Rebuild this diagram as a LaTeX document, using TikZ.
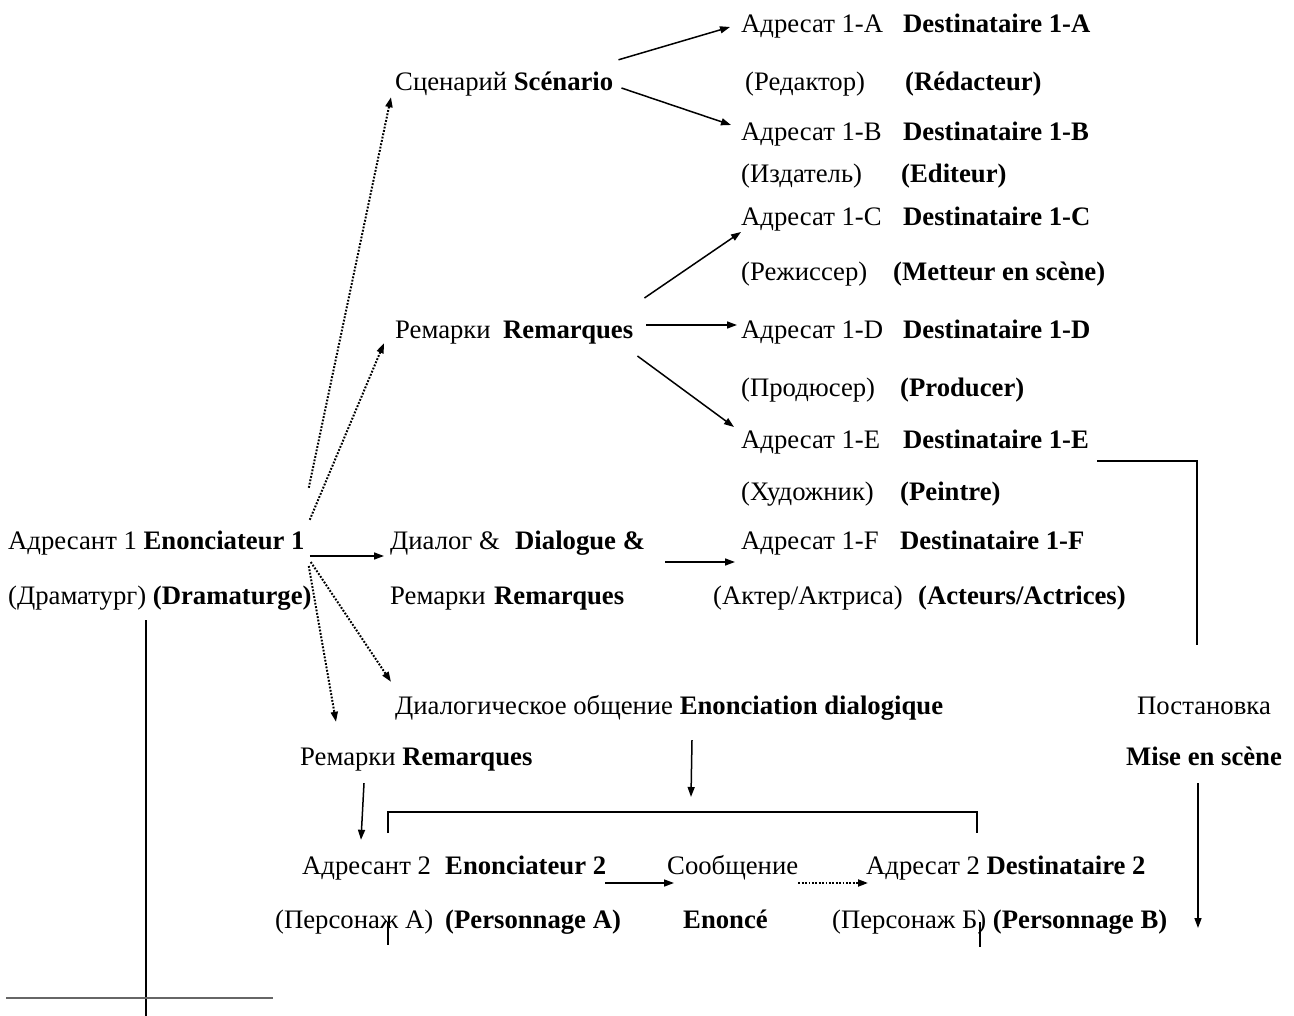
\documentclass[tikz,border=0pt]{standalone}
\usepackage{fontspec}
\setmainfont{Liberation Serif}
\usetikzlibrary{arrows.meta}
\tikzset{
	textstyle/.style={inner sep=0pt,anchor=base west,text height=18pt,text depth=6pt},
	boldstyle/.style={textstyle,font=\bfseries},
	arrowstyle/.style={-{Stealth[length=10pt,width=7pt,inset=0pt]},line width=1.5pt},
	dotstyle/.style={arrowstyle,line width=2pt,dash pattern=on 1.8pt off 1.6pt},
	linestyle/.style={line width=1.5pt}
}
\begin{document}
\begin{tikzpicture}[x=1pt,y=-1pt]
	\fontsize{26.7pt}{31pt}\selectfont
	\useasboundingbox (0,0) rectangle (1294,1016);
	\node[textstyle] (a1a) at (741,33) {Адресат 1-A};
	\node[boldstyle] (a1afr) at (903,33) {Destinataire 1-A};
	\node[textstyle] (red) at (745,91) {(Редактор)};
	\node[boldstyle] (redfr) at (905,91) {(Rédacteur)};
	\node[textstyle] (scen) at (395,91) {Сценарий \textbf{Scénario}};
	\node[textstyle] (a1b) at (741,141) {Адресат 1-B};
	\node[boldstyle] (a1bfr) at (903,141) {Destinataire 1-B};
	\node[textstyle] (izd) at (741,183) {(Издатель)};
	\node[boldstyle] (izdfr) at (901,183) {(Editeur)};
	\node[textstyle] (a1c) at (741,226) {Адресат 1-C};
	\node[boldstyle] (a1cfr) at (903,226) {Destinataire 1-C};
	\node[textstyle] (rezh) at (741,281) {(Режиссер)};
	\node[boldstyle] (rezhfr) at (893,281) {(Metteur en scène)};
	\node[textstyle] (rem) at (395,339) {Ремарки};
	\node[boldstyle] (remfr) at (503,339) {Remarques};
	\node[textstyle] (a1d) at (741,339) {Адресат 1-D};
	\node[boldstyle] (a1dfr) at (903,339) {Destinataire 1-D};
	\node[textstyle] (prod) at (741,396) {(Продюсер)};
	\node[boldstyle] (prodfr) at (900,396) {(Producer)};
	\node[textstyle] (a1e) at (741,448) {Адресат 1-E};
	\node[boldstyle] (a1efr) at (903,448) {Destinataire 1-E};
	\node[textstyle] (khud) at (741,500) {(Художник)};
	\node[boldstyle] (khudfr) at (900,500) {(Peintre)};
	\node[textstyle] (enc1) at (8,549) {Адресант 1 \textbf{Enonciateur 1}};
	\node[textstyle] (dial) at (390,549) {Диалог \&};
	\node[boldstyle] (dialfr) at (515,549) {Dialogue \&};
	\node[textstyle] (a1f) at (741,549) {Адресат 1-F};
	\node[boldstyle] (a1ffr) at (900,549) {Destinataire 1-F};
	\node[textstyle] (dram) at (8,604) {(Драматург) \textbf{(Dramaturge)}};
	\node[textstyle] (rem2) at (390,604) {Ремарки};
	\node[boldstyle] (rem2fr) at (494,604) {Remarques};
	\node[textstyle] (akt) at (713,604) {(Актер/Актриса)};
	\node[boldstyle] (aktfr) at (918,604) {(Acteurs/Actrices)};
	\node[textstyle] (dialog) at (395,714) {Диалогическое общение \textbf{Enonciation dialogique}};
	\node[textstyle] (post) at (1137,714) {Постановка};
	\node[textstyle] (rem3) at (300,765) {Ремарки \textbf{Remarques}};
	\node[boldstyle] (mise) at (1126,765) {Mise en scène};
	\node[textstyle] (enc2) at (302,874) {Адресант 2};
	\node[boldstyle] (enc2fr) at (445,874) {Enonciateur 2};
	\node[textstyle] (soob) at (667,874) {Сообщение};
	\node[textstyle] (dest2) at (866,874) {Адресат 2 \textbf{Destinataire 2}};
	\node[textstyle] (persa) at (275,928) {(Персонаж А)};
	\node[boldstyle] (persafr) at (445,928) {(Personnage A)};
	\node[boldstyle] (enon) at (683,928) {Enoncé};
	\node[textstyle] (persb) at (832,928) {(Персонаж Б) \textbf{(Personnage B)}};
	\coordinate (brl) at (388,833);
	\coordinate (brr) at (977,833);
	\coordinate (brmid) at (691,797);
	\coordinate (postup) at (1197,645);
	\coordinate (misedown) at (1198,928);
	\coordinate (dramdown) at (146,1016);
	\draw[arrowstyle] ([xshift=5pt,yshift=13pt]scen.north east)--([xshift=-11pt]a1a.west);
	\draw[arrowstyle] ([xshift=8pt,yshift=-3pt]scen.east)--([xshift=-10pt,yshift=10pt]a1b.west);
	\draw[arrowstyle] ([xshift=11pt,yshift=35pt]remfr.east)--([yshift=-12pt]a1c.west);
	\draw[arrowstyle] ([xshift=13pt,yshift=8pt]remfr.east)--([xshift=-4pt,yshift=8pt]a1d.west);
	\draw[arrowstyle] ([xshift=4pt,yshift=-23pt]remfr.east)--([xshift=-7pt,yshift=15pt]a1e.west);
	\draw[arrowstyle] ([xshift=5pt,yshift=-13pt]enc1.east)--([xshift=-6pt,yshift=-13pt]dial.west);
	\draw[arrowstyle] ([xshift=20pt,yshift=-19pt]dialfr.east)--([xshift=-6pt,yshift=-19pt]a1f.west);
	\draw[dotstyle] ([xshift=4pt,yshift=43pt]enc1.north east)--([xshift=-4pt]scen.south west);
	\draw[dotstyle] ([xshift=5pt,yshift=11pt]enc1.north east)--([xshift=-11pt,yshift=2pt]rem.south west);
	\draw[dotstyle] ([xshift=6pt,yshift=-19pt]enc1.east)--([xshift=-4pt,yshift=14pt]dialog.north west);
	\draw[dotstyle] ([xshift=4pt,yshift=-23pt]enc1.east)--([xshift=36pt,yshift=25pt]rem3.north west);
	\draw[arrowstyle] ([xshift=64pt,yshift=-12pt]rem3.south west)--([xshift=59pt,yshift=16pt]enc2.north west);
	\draw[arrowstyle] ([xshift=297pt,yshift=-20pt]dialog.south west)--(brmid);
	\draw[linestyle] (brl)--++(0,-21)-|(brr);
	\draw[arrowstyle] ([xshift=-1pt,yshift=-15pt]enc2fr.east)--([xshift=7pt,yshift=-15pt]soob.west);
	\draw[dotstyle] ([yshift=-15pt]soob.east)--([xshift=2pt,yshift=-15pt]dest2.west);
	\draw[linestyle] ([xshift=8pt,yshift=-19pt]a1efr.east)-|(postup);
	\draw[arrowstyle] (misedown|-mise.south)++(0,12)--(misedown);
	\draw[linestyle] ([xshift=138pt,yshift=-10pt]dram.south west)--(dramdown);
	\draw[line width=2pt,black!60] (6,998)--(273,998);
	\draw[linestyle] (388,922)--(388,945);
	\draw[linestyle] (980,922)--(980,947);
\end{tikzpicture}
\end{document}
